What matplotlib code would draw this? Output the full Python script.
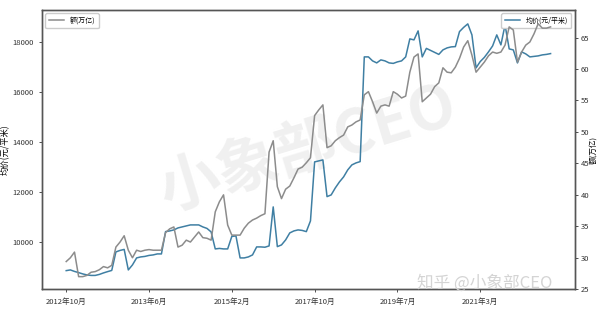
import matplotlib
matplotlib.use("Agg")
import matplotlib.pyplot as plt

plt.rcParams['font.family'] = ['Noto Sans CJK SC', 'DejaVu Sans']
plt.rcParams['axes.unicode_minus'] = False

# 数据
tick_labels = ["2012年10月", "2013年6月", "2015年2月", "2017年10月", "2019年7月", "2021年3月"]
tick_step = 20

# 均价 (元/平米)
price = [
    8840, 8868, 8808, 8760, 8708, 8668, 8648, 8648, 8688, 8748,
    8800, 8848, 9588, 9648, 9688, 8868, 9068, 9348, 9388, 9408,
    9448, 9468, 9508, 9508, 10400, 10428, 10468, 10548, 10588, 10628,
    10668, 10668, 10668, 10588, 10528, 10388, 9708, 9728, 9708, 9708,
    10208, 10228, 9348, 9348, 9388, 9468, 9788, 9788, 9776, 9828,
    11388, 9800, 9868, 10068, 10348, 10428, 10468, 10448, 10400, 10828,
    13188, 13228, 13268, 11800, 11868, 12148, 12388, 12588, 12868, 13068,
    13148, 13200, 17388, 17388, 17228, 17148, 17268, 17228, 17148, 17128,
    17188, 17228, 17388, 18108, 18068, 18428, 17388, 17728, 17648, 17568,
    17488, 17668, 17748, 17788, 17800, 18400, 18568, 18708, 18268, 16948,
    17200, 17368, 17588, 17828, 18268, 17868, 18668, 17708, 17668, 17148,
    17588, 17508, 17388, 17408, 17428, 17468, 17488, 17520,
]

# 额 (万亿)
amount = [
    29.4, 30.0, 30.9, 27.0, 27.0, 27.2, 27.7, 27.8, 28.1, 28.6,
    28.4, 28.8, 31.7, 32.5, 33.5, 31.2, 30.0, 31.2, 31.0, 31.2,
    31.3, 31.2, 31.2, 31.2, 34.0, 34.6, 34.9, 31.7, 32.0, 32.8,
    32.5, 33.3, 34.1, 33.2, 33.1, 32.8, 37.3, 38.9, 40.0, 35.2,
    33.6, 33.6, 33.6, 34.7, 35.5, 36.0, 36.3, 36.7, 37.0, 46.8,
    48.6, 41.3, 39.4, 40.9, 41.4, 42.7, 44.1, 44.4, 45.1, 45.9,
    52.6, 53.5, 54.3, 47.5, 47.8, 48.6, 49.1, 49.5, 50.8, 51.1,
    51.6, 51.9, 55.9, 56.4, 54.8, 53.0, 54.1, 54.3, 54.1, 56.4,
    56.0, 55.4, 55.7, 59.5, 61.9, 62.4, 54.8, 55.4, 56.0, 57.2,
    57.8, 60.2, 59.5, 59.4, 60.3, 61.7, 63.5, 64.5, 62.2, 59.5,
    60.3, 61.1, 62.1, 62.7, 62.5, 62.7, 63.8, 66.7, 66.2, 61.1,
    62.7, 63.8, 64.3, 65.6, 67.2, 66.5, 66.5, 66.7,
]

x = list(range(len(price)))

fig = plt.figure(figsize=(6.0, 3.09), dpi=100)
ax1 = fig.add_axes([0.07, 0.064, 0.888, 0.904])
ax2 = ax1.twinx()

# 水印
ax1.text(0.5, 0.5, "小象部CEO", transform=ax1.transAxes, fontsize=44,
         color="#f0f0f0", rotation=17, ha="center", va="center",
         fontweight="bold", zorder=0)

l1, = ax1.plot(x, price, color="#3f7fa3", lw=1.1, label="均价(元/平米)")
l2, = ax2.plot(x, amount, color="#8c8c8c", lw=1.1, label="额(万亿)")

ax1.set_xlim(-5.85, len(x) - 1 + 5.85)
ax1.set_ylim(8096, 19268)
ax2.set_ylim(25, 69.4)

ax1.set_xticks(x[::tick_step])
ax1.set_xticklabels(tick_labels)
ax1.set_yticks([10000, 12000, 14000, 16000, 18000])
ax2.set_yticks([25, 30, 35, 40, 45, 50, 55, 60, 65])

for ax in (ax1, ax2):
    ax.tick_params(labelsize=5.5, length=2.5, width=0.6, colors="#333333")
    for s in ax.spines.values():
        s.set_color("#555555")
        s.set_linewidth(1.0)
ax2.tick_params(pad=1.5)

ax1.set_ylabel("均价(元/平米)", fontsize=6, labelpad=2)
ax2.set_ylabel("额(万亿)", fontsize=5.5, labelpad=0.5)

ax2.legend(handles=[l2], loc="upper left", fontsize=5, handlelength=2.2,
           borderpad=0.5, framealpha=1, edgecolor="#cccccc")
ax1.legend(handles=[l1], loc="upper right", fontsize=5, handlelength=2.2,
           borderpad=0.5, framealpha=1, edgecolor="#cccccc")

fig.text(0.695, 0.085, "知乎 @小象部CEO", fontsize=12, color="#d4d4d4",
         ha="left", va="center")

fig.savefig("out.png", dpi=100)
